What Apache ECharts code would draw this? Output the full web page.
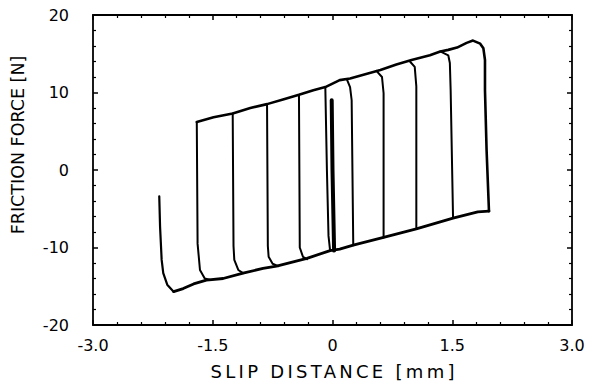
<!DOCTYPE html>
<html>
<head>
<meta charset="utf-8">
<script src="https://cdn.jsdelivr.net/npm/echarts@6/dist/echarts.min.js"></script>
<style>
  html, body { margin: 0; padding: 0; background: #fff; }
  #main { width: 596px; height: 387px; }
</style>
</head>
<body>
<div id="main"></div>
<script>
// axis ranges
var xRange = [-3, 3], xStep = 1.5;
var yRange = [-20, 20], yStep = 10;

// upper sliding edge (force positive), left to right, incl. outer reversal
var topEdge = [
  [-1.70, 6.2], [-1.49, 6.8], [-1.25, 7.3], [-1.03, 8.0], [-0.82, 8.5],
  [-0.62, 9.1], [-0.42, 9.7], [-0.24, 10.3], [-0.09, 10.7], [0.09, 11.6],
  [0.22, 11.8], [0.60, 12.9], [0.80, 13.6], [0.99, 14.2], [1.22, 14.8],
  [1.35, 15.3], [1.45, 15.5], [1.56, 15.8], [1.68, 16.4], [1.76, 16.7],
  [1.85, 16.3], [1.89, 15.7], [1.91, 14.2], [1.91, 10.3], [1.93, 2.6],
  [1.96, -5.3]
];

// lower sliding edge (force negative), right to left
var bottomEdge = [
  [1.96, -5.3], [1.82, -5.4], [1.51, -6.2], [1.05, -7.6], [0.64, -8.7],
  [0.26, -9.7], [0.09, -10.2], [-0.03, -10.4], [-0.32, -11.4], [-0.70, -12.4],
  [-0.87, -12.7], [-1.12, -13.3], [-1.37, -14.0], [-1.58, -14.2],
  [-1.74, -14.7], [-1.87, -15.3], [-1.99, -15.7]
];

// first stroke at the far left
var startTail = [
  [-1.99, -15.7], [-2.07, -14.8], [-2.12, -13.3], [-2.14, -11.6],
  [-2.16, -7.3], [-2.17, -3.4]
];

// left reversals (force rising)
var leftBranches = [
  [[-1.70, 6.2], [-1.69, -9.5], [-1.66, -12.9], [-1.60, -14.0], [-1.53, -14.2]],
  [[-1.25, 7.3], [-1.24, -9.8], [-1.23, -11.6], [-1.18, -12.9], [-1.12, -13.3]],
  [[-0.82, 8.5], [-0.81, -9.8], [-0.80, -11.2], [-0.75, -12.1], [-0.68, -12.4]],
  [[-0.42, 9.7], [-0.41, -10.0], [-0.37, -11.2], [-0.32, -11.5]],
  [[-0.09, 10.7], [-0.07, 0.0], [-0.05, -8.5], [-0.03, -10.4]]
];

// right reversals (force falling)
var rightBranches = [
  [[0.18, 11.7], [0.22, 10.7], [0.24, 9.0], [0.26, -9.7]],
  [[0.55, 12.8], [0.62, 12.0], [0.64, 9.9], [0.64, -8.7]],
  [[0.97, 14.0], [1.03, 13.3], [1.05, 10.8], [1.05, -7.6]],
  [[1.35, 15.3], [1.45, 14.8], [1.47, 13.8], [1.48, 10.3], [1.51, -6.2]]
];

// small-amplitude cycles in the middle
var centerBranch = [[-0.01, 9.0], [0.00, 0.0], [0.02, -10.4]];

var xTitle = 'SLIP DISTANCE [mm]';
var yTitle = 'FRICTION FORCE [N]';
var fontFam = '"DejaVu Sans", Verdana, sans-serif';

function line(data, width) {
  return {
    type: 'line',
    data: data,
    showSymbol: false,
    symbol: 'none',
    silent: true,
    lineStyle: { color: '#000', width: width, cap: 'round', join: 'round' },
    z: 3
  };
}

var series = [
  line(topEdge, 2.6),
  line(bottomEdge, 2.8),
  line(startTail, 2.2),
  line(centerBranch, 4)
];
leftBranches.forEach(function (b) { series.push(line(b, 2)); });
rightBranches.forEach(function (b) { series.push(line(b, 2)); });

var axLine = { show: true, onZero: false, lineStyle: { color: '#000', width: 1.8 } };
var axTick = { show: true, inside: true, length: 5, lineStyle: { color: '#000', width: 1.5 } };
var axMinor = { show: true, splitNumber: 5, length: 3, lineStyle: { color: '#000', width: 1.2 } };

function xAx(pos, showLabel) {
  return {
    type: 'value', position: pos, min: xRange[0], max: xRange[1], interval: xStep,
    axisLine: axLine, axisTick: axTick, minorTick: axMinor,
    splitLine: { show: false },
    axisLabel: {
      show: showLabel, color: '#000', fontSize: 16, fontFamily: fontFam, margin: 12,
      formatter: function (v) { return v === 0 ? '0' : v.toFixed(1); }
    },
    name: showLabel ? xTitle : '',
    nameLocation: 'middle', nameGap: 37,
    nameTextStyle: { color: '#000', fontSize: 18, fontFamily: fontFam }
  };
}

function yAx(pos, showLabel) {
  return {
    type: 'value', position: pos, min: yRange[0], max: yRange[1], interval: yStep,
    axisLine: axLine, axisTick: axTick, minorTick: axMinor,
    splitLine: { show: false },
    axisLabel: {
      show: showLabel, color: '#000', fontSize: 16, fontFamily: fontFam, margin: 24,
      formatter: function (v) { return String(v); }
    },
    name: showLabel ? yTitle : '',
    nameLocation: 'middle', nameGap: 66, nameRotate: 90,
    nameTextStyle: { color: '#000', fontSize: 17.5, fontFamily: fontFam, padding: [0, 0, 0, 50] }
  };
}

var chart = echarts.init(document.getElementById('main'), null, { renderer: 'svg' });
chart.setOption({
  backgroundColor: '#fff',
  animation: false,
  grid: { left: 93, right: 24, top: 15, bottom: 62, containLabel: false },
  xAxis: [xAx('bottom', true), xAx('top', false)],
  yAxis: [yAx('left', true), yAx('right', false)],
  series: series
});

// the x title in the figure is set a little wider than the font
function spreadTitle() {
  var texts = document.querySelectorAll('#main text');
  for (var i = 0; i < texts.length; i++) {
    if (texts[i].textContent === xTitle) {
      texts[i].setAttribute('textLength', 244);
      texts[i].setAttribute('lengthAdjust', 'spacing');
    }
  }
}
spreadTitle();
chart.on('finished', spreadTitle);
</script>
</body>
</html>
